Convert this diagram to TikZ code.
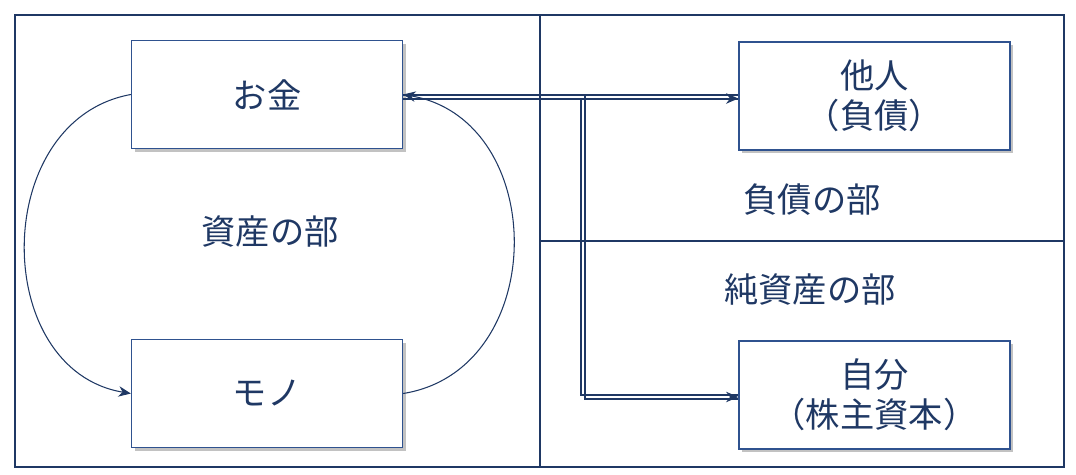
\documentclass[tikz,border=0pt]{standalone}
\usepackage{fontspec}
\setmainfont{Noto Sans CJK JP}
\usetikzlibrary{arrows.meta,shadows,calc}
\definecolor{navy}{HTML}{1F3864}
\definecolor{boxline}{HTML}{2F528F}
\begin{document}
\begin{tikzpicture}[x=0.02cm,y=-0.02cm,
  txt/.style={text=navy,font=\fontsize{19.5pt}{23pt}\selectfont,align=center},
  box/.style={draw=boxline,line width=0.8pt,fill=white,inner sep=0pt,
    minimum width=5.42cm,minimum height=2.16cm,txt,
    drop shadow={shadow xshift=1.8pt,shadow yshift=-1.8pt,opacity=0.4,fill=black!60}},
  edge/.style={draw=navy,line width=0.6pt},
  tip/.style={draw=navy,line width=0.6pt,-{Stealth[length=7pt,width=6pt]}},
  curve/.style={draw=navy,line width=0.6pt,-{Stealth[length=7pt,width=6pt]}}]
\useasboundingbox (0,0) rectangle (1076,474);
\draw[navy,line width=1.1pt] (15,15) rectangle (1064,467);
\coordinate (vt) at (540,15);
\coordinate (vb) at (540,467);
\coordinate (hl) at (540,241);
\coordinate (hr) at (1064,241);
\draw[navy,line width=0.9pt] (vt) -- (vb);
\draw[navy,line width=0.9pt] (hl) -- (hr);
\node[box] (okane) at (267,94.5) {お金};
\node[box] (mono) at (267,393.5) {モノ};
\node[box] (tanin) at (874.5,96) {他人\\（負債）};
\node[box] (jibun) at (874.5,395) {自分\\（株主資本）};
\node[txt] (shisan) at (270,232) {資産の部};
\node[txt] (fusai) at (812,200) {負債の部};
\node[txt] (junshisan) at (810,290) {純資産の部};
% connector to 他人 (double line)
\coordinate (a1) at ($(okane.east)+(0,0.5)$);
\coordinate (a2) at ($(okane.east)+(0,4.5)$);
\draw[edge] (a1) -- (a1 -| tanin.west);
\draw[edge] (a2) -- (a2 -| tanin.west);
\draw[tip] ($(tanin.west)+(-3,2.5)$) -- ($(tanin.west)+(0,2.5)$);
% connector to 自分 (double line)
\coordinate (t1) at (585,0);
\coordinate (t2) at (581,0);
\draw[edge] (a1) -- (a1 -| t1) -- ($(t1 |- jibun.west)+(0,4)$) -- ($(jibun.west)+(0,4)$);
\draw[edge] (a2) -- (a2 -| t2) -- ($(t2 |- jibun.west)+(0,0)$) -- (jibun.west);
\draw[tip] ($(jibun.west)+(-3,2)$) -- ($(jibun.west)+(0,2)$);
% cycle curves
\draw[curve] (okane.west) .. controls (-10,120) and (-10,370) .. (mono.west);
\draw[curve] (mono.east) .. controls (550,370) and (550,120) .. (okane.east);
\end{tikzpicture}
\end{document}
